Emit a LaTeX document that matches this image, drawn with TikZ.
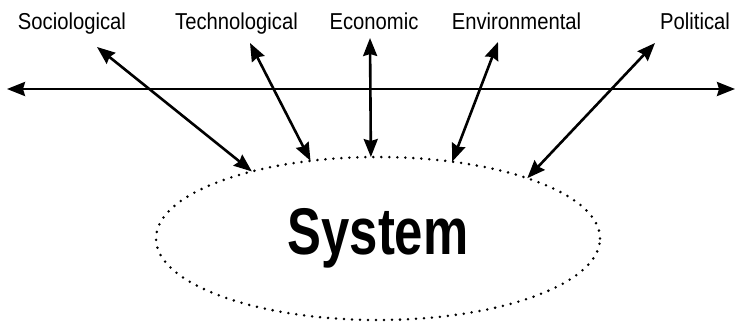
\documentclass[tikz,border=0pt]{standalone}
\usepackage{fontspec}
\setmainfont{Liberation Sans}
\newfontfamily\condfont[FakeStretch=0.88]{Liberation Sans}
\newfontfamily\condbold[FakeStretch=0.77]{Liberation Sans Bold}
\usepackage{tikz}
\usetikzlibrary{arrows.meta}
\usetikzlibrary{shapes.geometric}
\tikzstyle{lbl}=[font=\condfont\fontsize{11.5}{14}\selectfont,anchor=base,inner sep=0pt]
\tikzstyle{arhead}=[>/.tip={Stealth[length=9pt,width=7pt,inset=1pt]}]
\tikzstyle{ar}=[line width=1.3pt,arhead,<->]
\tikzstyle{sysring}=[ellipse,draw,line width=1.4pt,line cap=round,dash pattern=on 0pt off 4pt,
  minimum width=222pt,minimum height=81.5pt,inner sep=0pt,outer sep=0pt,
  font=\condbold\fontsize{33}{36}\selectfont]

\begin{document}
\begin{tikzpicture}[x=0.5pt,y=-0.5pt]
	\useasboundingbox (0,0) rectangle (742,321);
	% the system and its five environments
	\node[sysring] (sys) at (378,238.5) {System};
	\node[lbl] (soc)  at (72,29)    {Sociological};
	\node[lbl] (tech) at (236.5,29) {Technological};
	\node[lbl] (eco)  at (374,29)   {Economic};
	\node[lbl] (env)  at (516.5,29) {Environmental};
	\node[lbl] (pol)  at (695,29)   {Political};
	% free ends of the arrows
	\coordinate (soc-a)  at (97,47);
	\coordinate (tech-a) at (250,43);
	\coordinate (eco-a)  at (370,38);
	\coordinate (env-a)  at (498,42);
	\coordinate (pol-a)  at (655,43);
	\coordinate (lft) at (7,89);
	\coordinate (rgt) at (735,89);
	\draw[ar] (lft) -- (rgt);
	\draw[ar] (soc-a)  -- (sys.152.6);
	\draw[ar] (tech-a) -- (sys.131.2);
	\draw[ar] (eco-a)  -- (sys.95.3);
	\draw[ar] (env-a)  -- (sys.46.5);
	\draw[ar] (pol-a)  -- (sys.22);
\end{tikzpicture}
\end{document}
